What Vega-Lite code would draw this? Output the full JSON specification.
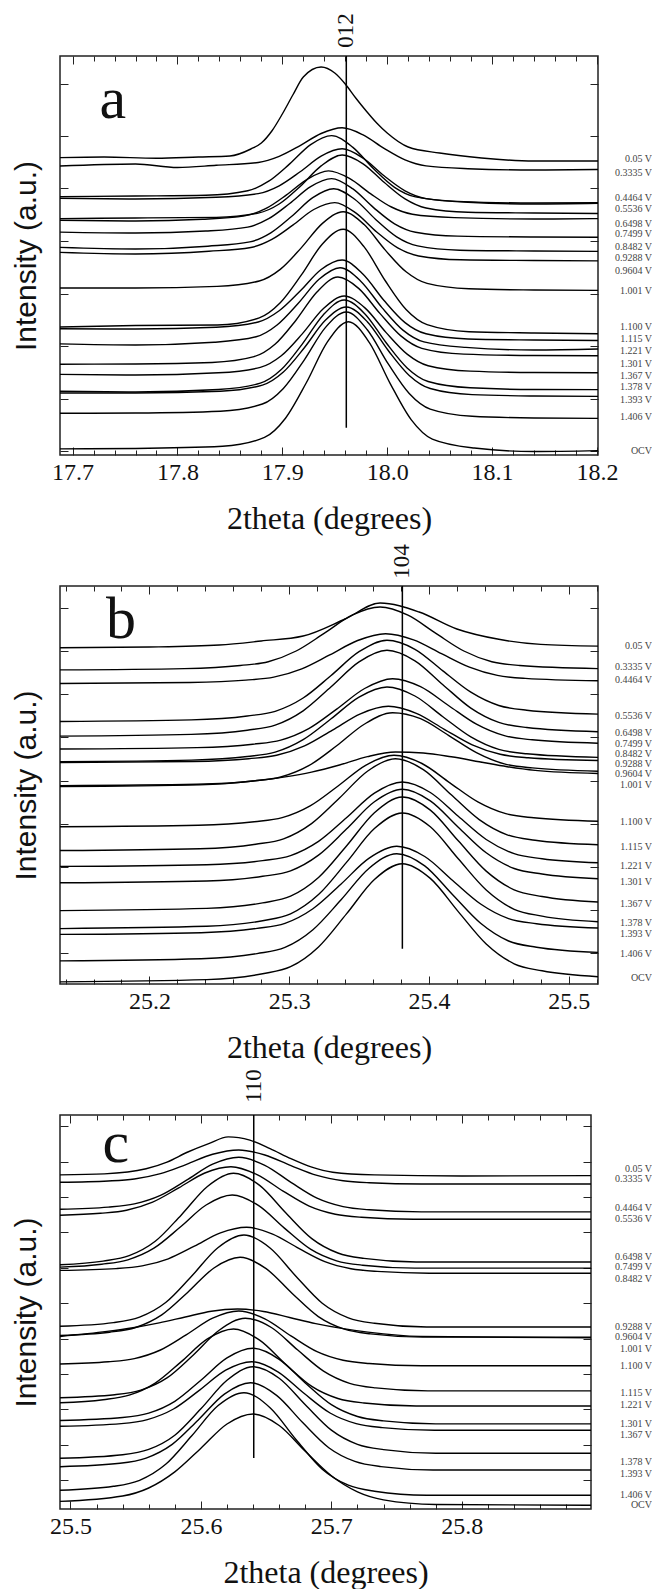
{
"$schema":"https://vega.github.io/schema/vega-lite/v6.json",
"padding":{"left":10,"top":12,"right":0,"bottom":0},
"bounds":"flush",
"spacing":131,
"config":{
"view":{"stroke":"#222","strokeWidth":1.5},
"axis":{"domain":false,"grid":false,"tickColor":"#222","tickWidth":1,"labelFont":"Liberation Serif","labelFontSize":24,"labelColor":"#111","titleFont":"Liberation Serif","titleFontWeight":"normal","titleColor":"#111"},
"text":{"font":"Liberation Serif","color":"#111"}
},
"datasets":{
"a":[
{"k":1,"x":17.688,"y":296.4},{"k":1,"x":17.73,"y":297},{"k":1,"x":17.78,"y":295.7},{"k":1,"x":17.82,"y":297},{"k":1,"x":17.85,"y":298},{"k":1,"x":17.87,"y":305},{"k":1,"x":17.88,"y":311},{"k":1,"x":17.89,"y":323},{"k":1,"x":17.9,"y":340},{"k":1,"x":17.91,"y":359},{"k":1,"x":17.92,"y":377},{"k":1,"x":17.937,"y":387},{"k":1,"x":17.95,"y":381},{"k":1,"x":17.96,"y":370},{"k":1,"x":17.97,"y":356},{"k":1,"x":17.98,"y":343},{"k":1,"x":17.99,"y":331},{"k":1,"x":18.0,"y":321},{"k":1,"x":18.02,"y":307},{"k":1,"x":18.05,"y":301},{"k":1,"x":18.09,"y":296},{"k":1,"x":18.14,"y":293},{"k":1,"x":18.201,"y":293},
{"k":2,"x":17.688,"y":288},{"k":2,"x":17.76,"y":290},{"k":2,"x":17.8,"y":286.5},{"k":2,"x":17.837,"y":288.7},{"k":2,"x":17.877,"y":291.5},{"k":2,"x":17.897,"y":297.6},{"k":2,"x":17.917,"y":308.4},{"k":2,"x":17.937,"y":320.5},{"k":2,"x":17.957,"y":326.2},{"k":2,"x":17.977,"y":319.1},{"k":2,"x":17.997,"y":305.6},{"k":2,"x":18.017,"y":294.1},{"k":2,"x":18.037,"y":288.1},{"k":2,"x":18.077,"y":285.3},{"k":2,"x":18.14,"y":284},{"k":2,"x":18.201,"y":284.5},
{"k":3,"x":17.688,"y":257.4},{"k":3,"x":17.76,"y":258},{"k":3,"x":17.827,"y":258.7},{"k":3,"x":17.867,"y":263.2},{"k":3,"x":17.887,"y":272.8},{"k":3,"x":17.907,"y":290.1},{"k":3,"x":17.927,"y":309.4},{"k":3,"x":17.947,"y":318.4},{"k":3,"x":17.967,"y":306.9},{"k":3,"x":17.987,"y":285.2},{"k":3,"x":18.007,"y":266.7},{"k":3,"x":18.027,"y":257.1},{"k":3,"x":18.067,"y":252.6},{"k":3,"x":18.14,"y":251},{"k":3,"x":18.201,"y":251.3},
{"k":4,"x":17.688,"y":255.7},{"k":4,"x":17.76,"y":255},{"k":4,"x":17.837,"y":256.7},{"k":4,"x":17.877,"y":260.4},{"k":4,"x":17.897,"y":268.2},{"k":4,"x":17.917,"y":282.2},{"k":4,"x":17.937,"y":297.9},{"k":4,"x":17.957,"y":305.2},{"k":4,"x":17.977,"y":295.9},{"k":4,"x":17.997,"y":278.2},{"k":4,"x":18.017,"y":263.2},{"k":4,"x":18.037,"y":255.4},{"k":4,"x":18.077,"y":251.7},{"k":4,"x":18.14,"y":250},{"k":4,"x":18.201,"y":250.7},
{"k":5,"x":17.688,"y":235.4},{"k":5,"x":17.76,"y":236},{"k":5,"x":17.837,"y":236.6},{"k":5,"x":17.877,"y":240.9},{"k":5,"x":17.897,"y":250},{"k":5,"x":17.917,"y":267.6},{"k":5,"x":17.937,"y":288.1},{"k":5,"x":17.957,"y":299},{"k":5,"x":17.977,"y":290.2},{"k":5,"x":17.997,"y":271.7},{"k":5,"x":18.017,"y":255.1},{"k":5,"x":18.037,"y":246},{"k":5,"x":18.077,"y":241.7},{"k":5,"x":18.14,"y":241},{"k":5,"x":18.201,"y":240.5},
{"k":6,"x":17.688,"y":233.7},{"k":6,"x":17.76,"y":233},{"k":6,"x":17.824,"y":234.7},{"k":6,"x":17.864,"y":238.1},{"k":6,"x":17.884,"y":245.3},{"k":6,"x":17.904,"y":259.1},{"k":6,"x":17.924,"y":274.9},{"k":6,"x":17.944,"y":283.1},{"k":6,"x":17.964,"y":275.6},{"k":6,"x":17.984,"y":260.4},{"k":6,"x":18.004,"y":247},{"k":6,"x":18.024,"y":239.8},{"k":6,"x":18.064,"y":236.4},{"k":6,"x":18.14,"y":235},{"k":6,"x":18.201,"y":235.4},
{"k":7,"x":17.688,"y":221.9},{"k":7,"x":17.76,"y":221},{"k":7,"x":17.827,"y":223},{"k":7,"x":17.867,"y":226.9},{"k":7,"x":17.887,"y":235.3},{"k":7,"x":17.907,"y":250.5},{"k":7,"x":17.927,"y":267.4},{"k":7,"x":17.947,"y":275.4},{"k":7,"x":17.967,"y":265.3},{"k":7,"x":17.987,"y":246.4},{"k":7,"x":18.007,"y":230.2},{"k":7,"x":18.027,"y":221.8},{"k":7,"x":18.067,"y":217.9},{"k":7,"x":18.14,"y":217},{"k":7,"x":18.201,"y":216.8},
{"k":8,"x":17.688,"y":206.6},{"k":8,"x":17.76,"y":205},{"k":8,"x":17.829,"y":207.8},{"k":8,"x":17.869,"y":212.1},{"k":8,"x":17.889,"y":221.2},{"k":8,"x":17.909,"y":237.8},{"k":8,"x":17.929,"y":256.4},{"k":8,"x":17.949,"y":265.3},{"k":8,"x":17.969,"y":254.8},{"k":8,"x":17.989,"y":234.6},{"k":8,"x":18.009,"y":217.2},{"k":8,"x":18.029,"y":208.1},{"k":8,"x":18.069,"y":203.8},{"k":8,"x":18.14,"y":203},{"k":8,"x":18.201,"y":202.6},
{"k":9,"x":17.688,"y":201.6},{"k":9,"x":17.76,"y":200},{"k":9,"x":17.83,"y":202.7},{"k":9,"x":17.87,"y":206.5},{"k":9,"x":17.89,"y":214.6},{"k":9,"x":17.91,"y":228.9},{"k":9,"x":17.93,"y":244.5},{"k":9,"x":17.95,"y":251.4},{"k":9,"x":17.97,"y":241.1},{"k":9,"x":17.99,"y":222},{"k":9,"x":18.01,"y":206.1},{"k":9,"x":18.03,"y":198},{"k":9,"x":18.07,"y":194.2},{"k":9,"x":18.14,"y":193.5},{"k":9,"x":18.201,"y":193.1},
{"k":10,"x":17.688,"y":166},{"k":10,"x":17.76,"y":166},{"k":10,"x":17.838,"y":167.6},{"k":10,"x":17.878,"y":173},{"k":10,"x":17.898,"y":184.6},{"k":10,"x":17.918,"y":206.1},{"k":10,"x":17.938,"y":230.4},{"k":10,"x":17.958,"y":242.3},{"k":10,"x":17.978,"y":229.4},{"k":10,"x":17.998,"y":204.1},{"k":10,"x":18.018,"y":182.2},{"k":10,"x":18.038,"y":170.6},{"k":10,"x":18.078,"y":165.2},{"k":10,"x":18.14,"y":164},{"k":10,"x":18.201,"y":163.6},
{"k":11,"x":17.688,"y":127},{"k":11,"x":17.76,"y":128.5},{"k":11,"x":17.838,"y":129},{"k":11,"x":17.878,"y":136.1},{"k":11,"x":17.898,"y":151.2},{"k":11,"x":17.918,"y":178.8},{"k":11,"x":17.938,"y":209.8},{"k":11,"x":17.958,"y":224.7},{"k":11,"x":17.978,"y":207.1},{"k":11,"x":17.998,"y":173.5},{"k":11,"x":18.018,"y":144.5},{"k":11,"x":18.038,"y":129.4},{"k":11,"x":18.078,"y":122.3},{"k":11,"x":18.14,"y":121},{"k":11,"x":18.201,"y":120.3},
{"k":12,"x":17.688,"y":125.3},{"k":12,"x":17.76,"y":125},{"k":12,"x":17.837,"y":126.8},{"k":12,"x":17.877,"y":132},{"k":12,"x":17.897,"y":143.2},{"k":12,"x":17.917,"y":162.9},{"k":12,"x":17.937,"y":184.5},{"k":12,"x":17.957,"y":194},{"k":12,"x":17.977,"y":179.7},{"k":12,"x":17.997,"y":153.5},{"k":12,"x":18.017,"y":131.4},{"k":12,"x":18.037,"y":120.2},{"k":12,"x":18.077,"y":115},{"k":12,"x":18.14,"y":114},{"k":12,"x":18.201,"y":113.5},
{"k":13,"x":17.688,"y":110.1},{"k":13,"x":17.76,"y":109},{"k":13,"x":17.835,"y":111.7},{"k":13,"x":17.875,"y":117.2},{"k":13,"x":17.895,"y":129},{"k":13,"x":17.915,"y":150.5},{"k":13,"x":17.935,"y":174.7},{"k":13,"x":17.955,"y":186.3},{"k":13,"x":17.975,"y":172.6},{"k":13,"x":17.995,"y":146.4},{"k":13,"x":18.015,"y":123.9},{"k":13,"x":18.035,"y":112.1},{"k":13,"x":18.075,"y":106.6},{"k":13,"x":18.14,"y":104},{"k":13,"x":18.201,"y":105},
{"k":14,"x":17.688,"y":89.8},{"k":14,"x":17.76,"y":90},{"k":14,"x":17.833,"y":91.5},{"k":14,"x":17.873,"y":97.3},{"k":14,"x":17.893,"y":109.7},{"k":14,"x":17.913,"y":133.8},{"k":14,"x":17.933,"y":162},{"k":14,"x":17.953,"y":177},{"k":14,"x":17.973,"y":165.4},{"k":14,"x":17.993,"y":140.6},{"k":14,"x":18.013,"y":118.1},{"k":14,"x":18.033,"y":105.7},{"k":14,"x":18.073,"y":99.9},{"k":14,"x":18.14,"y":98.5},{"k":14,"x":18.201,"y":98.2},
{"k":15,"x":17.688,"y":79.6},{"k":15,"x":17.76,"y":79},{"k":15,"x":17.839,"y":81.2},{"k":15,"x":17.879,"y":86.6},{"k":15,"x":17.899,"y":98.2},{"k":15,"x":17.919,"y":120.1},{"k":15,"x":17.939,"y":145.2},{"k":15,"x":17.959,"y":158},{"k":15,"x":17.979,"y":145.9},{"k":15,"x":17.999,"y":121.4},{"k":15,"x":18.019,"y":99.9},{"k":15,"x":18.039,"y":88.3},{"k":15,"x":18.079,"y":82.9},{"k":15,"x":18.14,"y":81.5},{"k":15,"x":18.201,"y":81.3},
{"k":16,"x":17.688,"y":62.7},{"k":16,"x":17.76,"y":62},{"k":16,"x":17.839,"y":64.5},{"k":16,"x":17.879,"y":70.8},{"k":16,"x":17.899,"y":84.4},{"k":16,"x":17.919,"y":109.9},{"k":16,"x":17.939,"y":139.1},{"k":16,"x":17.959,"y":154},{"k":16,"x":17.979,"y":139.8},{"k":16,"x":17.999,"y":111.2},{"k":16,"x":18.019,"y":86.1},{"k":16,"x":18.039,"y":72.5},{"k":16,"x":18.079,"y":66.2},{"k":16,"x":18.14,"y":64.5},{"k":16,"x":18.201,"y":64.4},
{"k":17,"x":17.688,"y":61},{"k":17,"x":17.76,"y":61},{"k":17,"x":17.841,"y":62.8},{"k":17,"x":17.881,"y":68.9},{"k":17,"x":17.901,"y":82},{"k":17,"x":17.921,"y":106.3},{"k":17,"x":17.941,"y":133.7},{"k":17,"x":17.961,"y":147},{"k":17,"x":17.981,"y":132.3},{"k":17,"x":18.001,"y":103.5},{"k":17,"x":18.021,"y":78.6},{"k":17,"x":18.041,"y":65.5},{"k":17,"x":18.081,"y":59.4},{"k":17,"x":18.14,"y":58},{"k":17,"x":18.201,"y":57.6},
{"k":18,"x":17.688,"y":40.7},{"k":18,"x":17.76,"y":41},{"k":18,"x":17.841,"y":42.8},{"k":18,"x":17.881,"y":50},{"k":18,"x":17.901,"y":65.6},{"k":18,"x":17.921,"y":94.2},{"k":18,"x":17.941,"y":126.4},{"k":18,"x":17.961,"y":142},{"k":18,"x":17.981,"y":124.3},{"k":18,"x":18.001,"y":90.1},{"k":18,"x":18.021,"y":60.5},{"k":18,"x":18.041,"y":44.9},{"k":18,"x":18.081,"y":37.7},{"k":18,"x":18.14,"y":36},{"k":18,"x":18.201,"y":35.6},
{"k":19,"x":17.688,"y":5.1},{"k":19,"x":17.76,"y":5.5},{"k":19,"x":17.843,"y":7.7},{"k":19,"x":17.883,"y":16.6},{"k":19,"x":17.903,"y":35.8},{"k":19,"x":17.923,"y":71.5},{"k":19,"x":17.943,"y":112.1},{"k":19,"x":17.963,"y":132.3},{"k":19,"x":17.983,"y":111.4},{"k":19,"x":18.003,"y":70.2},{"k":19,"x":18.023,"y":34.1},{"k":19,"x":18.043,"y":14.9},{"k":19,"x":18.083,"y":6},{"k":19,"x":18.14,"y":2.5},{"k":19,"x":18.201,"y":3.4}
],
"b":[
{"k":1,"x":25.136,"y":336.2},{"k":1,"x":25.2,"y":337},{"k":1,"x":25.25,"y":339},{"k":1,"x":25.28,"y":343},{"k":1,"x":25.31,"y":348},{"k":1,"x":25.34,"y":365},{"k":1,"x":25.365,"y":381},{"k":1,"x":25.393,"y":372},{"k":1,"x":25.42,"y":355},{"k":1,"x":25.45,"y":344.7},{"k":1,"x":25.48,"y":339.6},{"k":1,"x":25.521,"y":337.9},
{"k":2,"x":25.136,"y":314.1},{"k":2,"x":25.225,"y":315.4},{"k":2,"x":25.265,"y":318.5},{"k":2,"x":25.285,"y":322.3},{"k":2,"x":25.305,"y":333},{"k":2,"x":25.325,"y":350.6},{"k":2,"x":25.345,"y":368.8},{"k":2,"x":25.365,"y":377},{"k":2,"x":25.385,"y":368.8},{"k":2,"x":25.405,"y":350.6},{"k":2,"x":25.425,"y":333},{"k":2,"x":25.445,"y":322.3},{"k":2,"x":25.465,"y":318.5},{"k":2,"x":25.521,"y":315.4},
{"k":3,"x":25.136,"y":300.5},{"k":3,"x":25.229,"y":301.5},{"k":3,"x":25.269,"y":303.9},{"k":3,"x":25.289,"y":306.9},{"k":3,"x":25.309,"y":315.2},{"k":3,"x":25.329,"y":329.1},{"k":3,"x":25.349,"y":343.5},{"k":3,"x":25.369,"y":350.3},{"k":3,"x":25.389,"y":344.2},{"k":3,"x":25.409,"y":330.4},{"k":3,"x":25.429,"y":316.9},{"k":3,"x":25.449,"y":308.6},{"k":3,"x":25.469,"y":305.6},{"k":3,"x":25.521,"y":303.2},
{"k":4,"x":25.136,"y":262.5},{"k":4,"x":25.23,"y":264.1},{"k":4,"x":25.27,"y":268},{"k":4,"x":25.29,"y":272.7},{"k":4,"x":25.31,"y":286},{"k":4,"x":25.33,"y":308.5},{"k":4,"x":25.35,"y":332.3},{"k":4,"x":25.37,"y":343.7},{"k":4,"x":25.39,"y":334.7},{"k":4,"x":25.41,"y":313.1},{"k":4,"x":25.43,"y":291.8},{"k":4,"x":25.45,"y":278.5},{"k":4,"x":25.47,"y":273.8},{"k":4,"x":25.521,"y":269.9},
{"k":5,"x":25.136,"y":247.9},{"k":5,"x":25.23,"y":249.6},{"k":5,"x":25.27,"y":253.8},{"k":5,"x":25.29,"y":258.9},{"k":5,"x":25.31,"y":273.2},{"k":5,"x":25.33,"y":297.2},{"k":5,"x":25.35,"y":322.1},{"k":5,"x":25.37,"y":333.7},{"k":5,"x":25.39,"y":323.2},{"k":5,"x":25.41,"y":299.3},{"k":5,"x":25.43,"y":275.9},{"k":5,"x":25.45,"y":261.6},{"k":5,"x":25.47,"y":256.5},{"k":5,"x":25.521,"y":252.3},
{"k":6,"x":25.136,"y":235},{"k":6,"x":25.234,"y":236.4},{"k":6,"x":25.274,"y":239.8},{"k":6,"x":25.294,"y":243.9},{"k":6,"x":25.314,"y":255.4},{"k":6,"x":25.334,"y":274.9},{"k":6,"x":25.354,"y":295.5},{"k":6,"x":25.374,"y":305.3},{"k":6,"x":25.394,"y":297.3},{"k":6,"x":25.414,"y":278.5},{"k":6,"x":25.434,"y":259.8},{"k":6,"x":25.454,"y":248.3},{"k":6,"x":25.474,"y":244.2},{"k":6,"x":25.521,"y":240.8},
{"k":7,"x":25.136,"y":222.4},{"k":7,"x":25.23,"y":223.9},{"k":7,"x":25.27,"y":227.5},{"k":7,"x":25.29,"y":231.9},{"k":7,"x":25.31,"y":244.4},{"k":7,"x":25.33,"y":265.2},{"k":7,"x":25.35,"y":286.9},{"k":7,"x":25.37,"y":297},{"k":7,"x":25.39,"y":288},{"k":7,"x":25.41,"y":267.3},{"k":7,"x":25.43,"y":247.1},{"k":7,"x":25.45,"y":234.6},{"k":7,"x":25.47,"y":230.2},{"k":7,"x":25.521,"y":226.6},
{"k":8,"x":25.136,"y":221.4},{"k":8,"x":25.231,"y":222.5},{"k":8,"x":25.271,"y":225.3},{"k":8,"x":25.291,"y":228.7},{"k":8,"x":25.311,"y":238.1},{"k":8,"x":25.331,"y":253.9},{"k":8,"x":25.351,"y":270.2},{"k":8,"x":25.371,"y":277.7},{"k":8,"x":25.391,"y":270.6},{"k":8,"x":25.411,"y":254.7},{"k":8,"x":25.431,"y":239.1},{"k":8,"x":25.451,"y":229.7},{"k":8,"x":25.471,"y":226.3},{"k":8,"x":25.521,"y":223.5},
{"k":9,"x":25.136,"y":198.4},{"k":9,"x":25.234,"y":199.7},{"k":9,"x":25.274,"y":203},{"k":9,"x":25.294,"y":207},{"k":9,"x":25.314,"y":218.3},{"k":9,"x":25.334,"y":238.2},{"k":9,"x":25.354,"y":260},{"k":9,"x":25.374,"y":271.3},{"k":9,"x":25.394,"y":265.3},{"k":9,"x":25.414,"y":248.7},{"k":9,"x":25.434,"y":231.4},{"k":9,"x":25.454,"y":220.1},{"k":9,"x":25.474,"y":216.1},{"k":9,"x":25.521,"y":212.8},
{"k":10,"x":25.136,"y":197.4},{"k":10,"x":25.236,"y":199.1},{"k":10,"x":25.276,"y":203.2},{"k":10,"x":25.296,"y":206.9},{"k":10,"x":25.316,"y":211.9},{"k":10,"x":25.336,"y":219},{"k":10,"x":25.356,"y":227.4},{"k":10,"x":25.376,"y":232},{"k":10,"x":25.396,"y":231},{"k":10,"x":25.416,"y":227.2},{"k":10,"x":25.436,"y":222.3},{"k":10,"x":25.456,"y":217.3},{"k":10,"x":25.476,"y":213.6},{"k":10,"x":25.521,"y":210.5},
{"k":11,"x":25.136,"y":157.3},{"k":11,"x":25.235,"y":158.7},{"k":11,"x":25.275,"y":162.2},{"k":11,"x":25.295,"y":166.3},{"k":11,"x":25.315,"y":178.1},{"k":11,"x":25.335,"y":198},{"k":11,"x":25.355,"y":218.9},{"k":11,"x":25.375,"y":228.7},{"k":11,"x":25.395,"y":220.5},{"k":11,"x":25.415,"y":201.2},{"k":11,"x":25.435,"y":182.1},{"k":11,"x":25.455,"y":170.3},{"k":11,"x":25.475,"y":166.2},{"k":11,"x":25.521,"y":162.7},
{"k":12,"x":25.136,"y":133.5},{"k":12,"x":25.236,"y":135.3},{"k":12,"x":25.276,"y":139.8},{"k":12,"x":25.296,"y":145.2},{"k":12,"x":25.316,"y":160.4},{"k":12,"x":25.336,"y":186},{"k":12,"x":25.356,"y":212.8},{"k":12,"x":25.376,"y":225.3},{"k":12,"x":25.396,"y":214.4},{"k":12,"x":25.416,"y":189.2},{"k":12,"x":25.436,"y":164.4},{"k":12,"x":25.456,"y":149.2},{"k":12,"x":25.476,"y":143.8},{"k":12,"x":25.521,"y":139.3},
{"k":13,"x":25.136,"y":117.6},{"k":13,"x":25.241,"y":119.3},{"k":13,"x":25.281,"y":123.4},{"k":13,"x":25.301,"y":128.4},{"k":13,"x":25.321,"y":142.6},{"k":13,"x":25.341,"y":166.2},{"k":13,"x":25.361,"y":190.8},{"k":13,"x":25.381,"y":202},{"k":13,"x":25.401,"y":191.5},{"k":13,"x":25.421,"y":167.7},{"k":13,"x":25.441,"y":144.5},{"k":13,"x":25.461,"y":130.3},{"k":13,"x":25.481,"y":125.3},{"k":13,"x":25.521,"y":121.2},
{"k":14,"x":25.136,"y":101.2},{"k":14,"x":25.241,"y":103},{"k":14,"x":25.281,"y":107.7},{"k":14,"x":25.301,"y":113.2},{"k":14,"x":25.321,"y":128.9},{"k":14,"x":25.341,"y":154.9},{"k":14,"x":25.361,"y":182.2},{"k":14,"x":25.381,"y":194.7},{"k":14,"x":25.401,"y":183.1},{"k":14,"x":25.421,"y":156.8},{"k":14,"x":25.441,"y":131.2},{"k":14,"x":25.461,"y":115.5},{"k":14,"x":25.481,"y":110},{"k":14,"x":25.521,"y":105.3},
{"k":15,"x":25.136,"y":73.4},{"k":15,"x":25.241,"y":75.6},{"k":15,"x":25.281,"y":81.1},{"k":15,"x":25.301,"y":87.8},{"k":15,"x":25.321,"y":106.5},{"k":15,"x":25.341,"y":138},{"k":15,"x":25.361,"y":171.3},{"k":15,"x":25.381,"y":187},{"k":15,"x":25.401,"y":173.9},{"k":15,"x":25.421,"y":143.2},{"k":15,"x":25.441,"y":112.9},{"k":15,"x":25.461,"y":94.2},{"k":15,"x":25.481,"y":87.5},{"k":15,"x":25.521,"y":82},
{"k":16,"x":25.136,"y":55.4},{"k":16,"x":25.241,"y":57.7},{"k":16,"x":25.281,"y":63.3},{"k":16,"x":25.301,"y":70.1},{"k":16,"x":25.321,"y":89.4},{"k":16,"x":25.341,"y":121.6},{"k":16,"x":25.361,"y":155.4},{"k":16,"x":25.381,"y":171},{"k":16,"x":25.401,"y":157.2},{"k":16,"x":25.421,"y":125.2},{"k":16,"x":25.441,"y":94},{"k":16,"x":25.461,"y":74.7},{"k":16,"x":25.481,"y":67.9},{"k":16,"x":25.521,"y":62.3},
{"k":17,"x":25.136,"y":49.6},{"k":17,"x":25.237,"y":51.3},{"k":17,"x":25.277,"y":55.6},{"k":17,"x":25.297,"y":60.7},{"k":17,"x":25.317,"y":75.3},{"k":17,"x":25.337,"y":99.8},{"k":17,"x":25.357,"y":125.6},{"k":17,"x":25.377,"y":137.7},{"k":17,"x":25.397,"y":127.5},{"k":17,"x":25.417,"y":103.5},{"k":17,"x":25.437,"y":80},{"k":17,"x":25.457,"y":65.4},{"k":17,"x":25.477,"y":60.3},{"k":17,"x":25.521,"y":56},
{"k":18,"x":25.136,"y":23.1},{"k":18,"x":25.237,"y":25.2},{"k":18,"x":25.277,"y":30.4},{"k":18,"x":25.297,"y":36.6},{"k":18,"x":25.317,"y":54.3},{"k":18,"x":25.337,"y":84},{"k":18,"x":25.357,"y":115.5},{"k":18,"x":25.377,"y":130.3},{"k":18,"x":25.397,"y":118.1},{"k":18,"x":25.417,"y":89.2},{"k":18,"x":25.437,"y":60.7},{"k":18,"x":25.457,"y":43},{"k":18,"x":25.477,"y":36.8},{"k":18,"x":25.521,"y":31.6},
{"k":19,"x":25.136,"y":2.1},{"k":19,"x":25.241,"y":4.4},{"k":19,"x":25.281,"y":10.3},{"k":19,"x":25.301,"y":17.3},{"k":19,"x":25.321,"y":37.1},{"k":19,"x":25.341,"y":70.1},{"k":19,"x":25.361,"y":104.5},{"k":19,"x":25.381,"y":120.3},{"k":19,"x":25.401,"y":105.6},{"k":19,"x":25.421,"y":72.4},{"k":19,"x":25.441,"y":40},{"k":19,"x":25.461,"y":20.2},{"k":19,"x":25.481,"y":13.2},{"k":19,"x":25.521,"y":7.3}
],
"c":[
{"k":1,"x":25.492,"y":332.1},{"k":1,"x":25.526,"y":333.1},{"k":1,"x":25.558,"y":338.2},{"k":1,"x":25.574,"y":344.9},{"k":1,"x":25.59,"y":355},{"k":1,"x":25.606,"y":363.4},{"k":1,"x":25.621,"y":370.1},{"k":1,"x":25.6375,"y":366.8},{"k":1,"x":25.653,"y":358.4},{"k":1,"x":25.669,"y":348.3},{"k":1,"x":25.685,"y":339.8},{"k":1,"x":25.701,"y":334.8},{"k":1,"x":25.733,"y":332.1},{"k":1,"x":25.8,"y":331},{"k":1,"x":25.899,"y":331.4},
{"k":2,"x":25.492,"y":324.7},{"k":2,"x":25.529,"y":326},{"k":2,"x":25.549,"y":328},{"k":2,"x":25.569,"y":333.3},{"k":2,"x":25.589,"y":342.7},{"k":2,"x":25.609,"y":352.7},{"k":2,"x":25.629,"y":357},{"k":2,"x":25.649,"y":352},{"k":2,"x":25.669,"y":341.4},{"k":2,"x":25.689,"y":331.6},{"k":2,"x":25.709,"y":326.3},{"k":2,"x":25.729,"y":324.3},{"k":2,"x":25.769,"y":323},{"k":2,"x":25.899,"y":323},
{"k":3,"x":25.492,"y":297.8},{"k":3,"x":25.529,"y":299.9},{"k":3,"x":25.549,"y":303.1},{"k":3,"x":25.569,"y":311.6},{"k":3,"x":25.589,"y":326.8},{"k":3,"x":25.609,"y":342.8},{"k":3,"x":25.629,"y":349.7},{"k":3,"x":25.649,"y":341.7},{"k":3,"x":25.669,"y":324.7},{"k":3,"x":25.689,"y":308.9},{"k":3,"x":25.709,"y":300.4},{"k":3,"x":25.729,"y":297.2},{"k":3,"x":25.769,"y":295.1},{"k":3,"x":25.899,"y":295.1},
{"k":4,"x":25.492,"y":291.7},{"k":4,"x":25.523,"y":293.7},{"k":4,"x":25.543,"y":296.8},{"k":4,"x":25.563,"y":304.9},{"k":4,"x":25.583,"y":319.1},{"k":4,"x":25.603,"y":334},{"k":4,"x":25.623,"y":340.3},{"k":4,"x":25.643,"y":332.4},{"k":4,"x":25.663,"y":315.9},{"k":4,"x":25.683,"y":300.9},{"k":4,"x":25.703,"y":292.8},{"k":4,"x":25.723,"y":289.7},{"k":4,"x":25.763,"y":287.7},{"k":4,"x":25.899,"y":287.7},
{"k":5,"x":25.492,"y":242.3},{"k":5,"x":25.525,"y":245.9},{"k":5,"x":25.545,"y":251.3},{"k":5,"x":25.565,"y":265.7},{"k":5,"x":25.585,"y":292.1},{"k":5,"x":25.605,"y":320.5},{"k":5,"x":25.625,"y":333.7},{"k":5,"x":25.645,"y":321.6},{"k":5,"x":25.665,"y":294.2},{"k":5,"x":25.685,"y":268.4},{"k":5,"x":25.705,"y":254},{"k":5,"x":25.725,"y":248.6},{"k":5,"x":25.765,"y":245},{"k":5,"x":25.899,"y":245},
{"k":6,"x":25.492,"y":239.9},{"k":6,"x":25.524,"y":242.8},{"k":6,"x":25.544,"y":247.2},{"k":6,"x":25.564,"y":258.8},{"k":6,"x":25.584,"y":279.7},{"k":6,"x":25.604,"y":302},{"k":6,"x":25.624,"y":312},{"k":6,"x":25.644,"y":301.6},{"k":6,"x":25.664,"y":278.9},{"k":6,"x":25.684,"y":257.8},{"k":6,"x":25.704,"y":246.2},{"k":6,"x":25.724,"y":241.8},{"k":6,"x":25.764,"y":238.9},{"k":6,"x":25.899,"y":238.9},
{"k":7,"x":25.492,"y":236.6},{"k":7,"x":25.535,"y":238.4},{"k":7,"x":25.555,"y":241.1},{"k":7,"x":25.575,"y":248.2},{"k":7,"x":25.595,"y":260.8},{"k":7,"x":25.615,"y":274.1},{"k":7,"x":25.635,"y":279.7},{"k":7,"x":25.655,"y":272.9},{"k":7,"x":25.675,"y":258.6},{"k":7,"x":25.695,"y":245.4},{"k":7,"x":25.715,"y":238.3},{"k":7,"x":25.735,"y":235.6},{"k":7,"x":25.775,"y":233.8},{"k":7,"x":25.899,"y":233.8},
{"k":8,"x":25.492,"y":180.7},{"k":8,"x":25.533,"y":184.4},{"k":8,"x":25.553,"y":189.9},{"k":8,"x":25.573,"y":204.5},{"k":8,"x":25.593,"y":231},{"k":8,"x":25.613,"y":259.3},{"k":8,"x":25.633,"y":272},{"k":8,"x":25.653,"y":259},{"k":8,"x":25.673,"y":230.5},{"k":8,"x":25.693,"y":203.8},{"k":8,"x":25.713,"y":189.2},{"k":8,"x":25.733,"y":183.7},{"k":8,"x":25.773,"y":180},{"k":8,"x":25.899,"y":180},
{"k":9,"x":25.492,"y":171.6},{"k":9,"x":25.53,"y":174.8},{"k":9,"x":25.55,"y":179.5},{"k":9,"x":25.57,"y":192.1},{"k":9,"x":25.59,"y":214.8},{"k":9,"x":25.61,"y":239},{"k":9,"x":25.63,"y":249.7},{"k":9,"x":25.65,"y":238.3},{"k":9,"x":25.67,"y":213.5},{"k":9,"x":25.69,"y":190.4},{"k":9,"x":25.71,"y":177.8},{"k":9,"x":25.73,"y":173.1},{"k":9,"x":25.77,"y":169.9},{"k":9,"x":25.899,"y":169.9},
{"k":10,"x":25.492,"y":170.5},{"k":10,"x":25.528,"y":175.6},{"k":10,"x":25.548,"y":179.3},{"k":10,"x":25.568,"y":184.1},{"k":10,"x":25.588,"y":190},{"k":10,"x":25.608,"y":195.8},{"k":10,"x":25.628,"y":198},{"k":10,"x":25.648,"y":195.5},{"k":10,"x":25.668,"y":189.5},{"k":10,"x":25.688,"y":183.4},{"k":10,"x":25.708,"y":178.6},{"k":10,"x":25.728,"y":174.9},{"k":10,"x":25.768,"y":170.6},{"k":10,"x":25.899,"y":169.2},
{"k":11,"x":25.492,"y":143},{"k":11,"x":25.529,"y":145.2},{"k":11,"x":25.549,"y":148.4},{"k":11,"x":25.569,"y":157},{"k":11,"x":25.589,"y":172.4},{"k":11,"x":25.609,"y":188.8},{"k":11,"x":25.629,"y":196},{"k":11,"x":25.649,"y":188.1},{"k":11,"x":25.669,"y":171.1},{"k":11,"x":25.689,"y":155.3},{"k":11,"x":25.709,"y":146.7},{"k":11,"x":25.729,"y":143.5},{"k":11,"x":25.769,"y":141.3},{"k":11,"x":25.899,"y":141.3},
{"k":12,"x":25.492,"y":109.3},{"k":12,"x":25.534,"y":112.3},{"k":12,"x":25.554,"y":116.9},{"k":12,"x":25.574,"y":129.1},{"k":12,"x":25.594,"y":151.8},{"k":12,"x":25.614,"y":176.7},{"k":12,"x":25.634,"y":188.7},{"k":12,"x":25.654,"y":179.5},{"k":12,"x":25.674,"y":157.2},{"k":12,"x":25.694,"y":135.9},{"k":12,"x":25.714,"y":123.7},{"k":12,"x":25.734,"y":119.1},{"k":12,"x":25.774,"y":116.1},{"k":12,"x":25.899,"y":116.1},
{"k":13,"x":25.492,"y":104.3},{"k":13,"x":25.525,"y":107.3},{"k":13,"x":25.545,"y":111.8},{"k":13,"x":25.565,"y":123.9},{"k":13,"x":25.585,"y":145.4},{"k":13,"x":25.605,"y":168.1},{"k":13,"x":25.625,"y":178},{"k":13,"x":25.645,"y":166.8},{"k":13,"x":25.665,"y":142.7},{"k":13,"x":25.685,"y":120.6},{"k":13,"x":25.705,"y":108.5},{"k":13,"x":25.725,"y":104},{"k":13,"x":25.765,"y":101},{"k":13,"x":25.899,"y":101},
{"k":14,"x":25.492,"y":86.5},{"k":14,"x":25.54,"y":89.5},{"k":14,"x":25.56,"y":93.9},{"k":14,"x":25.58,"y":105.7},{"k":14,"x":25.6,"y":126.8},{"k":14,"x":25.62,"y":149.1},{"k":14,"x":25.64,"y":158.7},{"k":14,"x":25.66,"y":147.7},{"k":14,"x":25.68,"y":124},{"k":14,"x":25.7,"y":102.3},{"k":14,"x":25.72,"y":90.5},{"k":14,"x":25.74,"y":86.1},{"k":14,"x":25.78,"y":83.1},{"k":14,"x":25.899,"y":83.1},
{"k":15,"x":25.492,"y":80.7},{"k":15,"x":25.539,"y":83.4},{"k":15,"x":25.559,"y":87.4},{"k":15,"x":25.579,"y":98},{"k":15,"x":25.599,"y":116.9},{"k":15,"x":25.619,"y":136.8},{"k":15,"x":25.639,"y":145.3},{"k":15,"x":25.659,"y":135.2},{"k":15,"x":25.679,"y":113.7},{"k":15,"x":25.699,"y":94},{"k":15,"x":25.719,"y":83.4},{"k":15,"x":25.739,"y":79.4},{"k":15,"x":25.779,"y":76.7},{"k":15,"x":25.899,"y":76.7},
{"k":16,"x":25.492,"y":48.7},{"k":16,"x":25.54,"y":52.3},{"k":16,"x":25.56,"y":57.6},{"k":16,"x":25.58,"y":71.8},{"k":16,"x":25.6,"y":98.2},{"k":16,"x":25.62,"y":126.7},{"k":16,"x":25.64,"y":140.3},{"k":16,"x":25.66,"y":128.8},{"k":16,"x":25.68,"y":102.3},{"k":16,"x":25.7,"y":76.9},{"k":16,"x":25.72,"y":62.7},{"k":16,"x":25.74,"y":57.4},{"k":16,"x":25.78,"y":53.8},{"k":16,"x":25.899,"y":53.8},
{"k":17,"x":25.492,"y":40.3},{"k":17,"x":25.538,"y":43.7},{"k":17,"x":25.558,"y":48.9},{"k":17,"x":25.578,"y":62.6},{"k":17,"x":25.598,"y":87.1},{"k":17,"x":25.618,"y":112.9},{"k":17,"x":25.638,"y":124.3},{"k":17,"x":25.658,"y":111.6},{"k":17,"x":25.678,"y":84.4},{"k":17,"x":25.698,"y":59.3},{"k":17,"x":25.718,"y":45.6},{"k":17,"x":25.738,"y":40.4},{"k":17,"x":25.778,"y":37},{"k":17,"x":25.899,"y":37},
{"k":18,"x":25.492,"y":16.7},{"k":18,"x":25.533,"y":20.7},{"k":18,"x":25.553,"y":26.7},{"k":18,"x":25.573,"y":42.7},{"k":18,"x":25.593,"y":71.2},{"k":18,"x":25.613,"y":101.2},{"k":18,"x":25.633,"y":114.3},{"k":18,"x":25.653,"y":99.3},{"k":18,"x":25.673,"y":67.3},{"k":18,"x":25.693,"y":37.8},{"k":18,"x":25.713,"y":21.8},{"k":18,"x":25.733,"y":15.8},{"k":18,"x":25.773,"y":11.8},{"k":18,"x":25.899,"y":11.8},
{"k":19,"x":25.492,"y":5.6},{"k":19,"x":25.54,"y":11},{"k":19,"x":25.56,"y":19},{"k":19,"x":25.58,"y":35.1},{"k":19,"x":25.6,"y":58.8},{"k":19,"x":25.62,"y":83},{"k":19,"x":25.64,"y":93},{"k":19,"x":25.66,"y":81.5},{"k":19,"x":25.68,"y":55.7},{"k":19,"x":25.7,"y":31.2},{"k":19,"x":25.72,"y":15.1},{"k":19,"x":25.74,"y":7.1},{"k":19,"x":25.78,"y":2.5},{"k":19,"x":25.899,"y":1.7}
],
"la":[{"t":"0.05 V","y":295.4},{"t":"0.3335 V","y":281.1},{"t":"0.4464 V","y":255.7},{"t":"0.5536 V","y":244.9},{"t":"0.6498 V","y":230.2},{"t":"0.7499 V","y":219.7},{"t":"0.8482 V","y":207.3},{"t":"0.9288 V","y":196.5},{"t":"0.9604 V","y":182.9},{"t":"1.001 V","y":162.6},{"t":"1.100 V","y":127},{"t":"1.115 V","y":115.2},{"t":"1.221 V","y":103.3},{"t":"1.301 V","y":89.8},{"t":"1.367 V","y":77.9},{"t":"1.378 V","y":66.8},{"t":"1.393 V","y":54.2},{"t":"1.406 V","y":36.6},{"t":"OCV","y":3.4}],
"lb":[{"t":"0.05 V","y":337.9},{"t":"0.3335 V","y":317.5},{"t":"0.4464 V","y":303.9},{"t":"0.5536 V","y":268.3},{"t":"0.6498 V","y":251.5},{"t":"0.7499 V","y":240.5},{"t":"0.8482 V","y":230},{"t":"0.9288 V","y":220},{"t":"0.9604 V","y":210},{"t":"1.001 V","y":199.3},{"t":"1.100 V","y":162},{"t":"1.115 V","y":137.5},{"t":"1.221 V","y":117.8},{"t":"1.301 V","y":101.9},{"t":"1.367 V","y":79.8},{"t":"1.378 V","y":61.1},{"t":"1.393 V","y":50.4},{"t":"1.406 V","y":30.5},{"t":"OCV","y":6}],
"lc":[{"t":"0.05 V","y":338.5},{"t":"0.3335 V","y":328.5},{"t":"0.4464 V","y":299.3},{"t":"0.5536 V","y":288.4},{"t":"0.6498 V","y":250.3},{"t":"0.7499 V","y":240},{"t":"0.8482 V","y":227.8},{"t":"0.9288 V","y":180.5},{"t":"0.9604 V","y":170},{"t":"1.001 V","y":158.1},{"t":"1.100 V","y":141.3},{"t":"1.115 V","y":114.4},{"t":"1.221 V","y":102},{"t":"1.301 V","y":82.7},{"t":"1.367 V","y":71.7},{"t":"1.378 V","y":45.4},{"t":"1.393 V","y":32.6},{"t":"1.406 V","y":12.3},{"t":"OCV","y":1.7}]
},
"vconcat":[
{"width":538,"height":399,
"layer":[
{"data":{"name":"a"},"mark":{"type":"line","interpolate":"monotone","color":"black","strokeWidth":1.4,"clip":true},
"encoding":{
"x":{"field":"x","type":"quantitative","scale":{"domain":[17.688,18.201],"nice":false,"zero":false},
"axis":{"orient":"bottom","values":[17.7,17.72,17.74,17.76,17.78,17.8,17.82,17.84,17.86,17.88,17.9,17.92,17.94,17.96,17.98,18.0,18.02,18.04,18.06,18.08,18.1,18.12,18.14,18.16,18.18,18.2],
"labelExpr":"abs(datum.value*10-round(datum.value*10))<0.001 ? format(datum.value,'.1f') : ''",
"tickSize":{"condition":{"test":"abs(datum.value*10-round(datum.value*10))<0.001","value":-8},"value":-5},
"labelFont":"Liberation Serif","labelFontSize":24,"labelPadding":13,"labelFlush":false,"labelOverlap":false,"title":"2theta (degrees)","titleFont":"Liberation Serif","titleFontSize":32,"titlePadding":16}},
"y":{"field":"y","type":"quantitative","scale":{"domain":[-1,398],"nice":false,"zero":false},
"axis":{"orient":"left","values":[3,55.5,108,160.5,213,265.5,318,370.5],"labels":false,"tickSize":-8,"title":"Intensity (a.u.)","titleFont":"Liberation Sans","titleFontSize":30,"titlePadding":18}},
"detail":{"field":"k","type":"nominal"}}},
{"data":{"values":[{"x":17.961,"y":398,"y2":26.3}]},"mark":{"type":"rule","color":"black","strokeWidth":1.5},
"encoding":{
"x":{"field":"x","type":"quantitative","scale":{"domain":[17.688,18.201],"nice":false,"zero":false},
"axis":{"orient":"top","values":[17.7,17.72,17.74,17.76,17.78,17.8,17.82,17.84,17.86,17.88,17.9,17.92,17.94,17.96,17.98,18.0,18.02,18.04,18.06,18.08,18.1,18.12,18.14,18.16,18.18,18.2],"labels":false,
"tickSize":{"condition":{"test":"abs(datum.value*10-round(datum.value*10))<0.001","value":-8},"value":-5},"title":null}},
"y":{"field":"y","type":"quantitative","scale":{"domain":[-1,398],"nice":false,"zero":false},
"axis":{"orient":"right","values":[3,55.5,108,160.5,213,265.5,318,370.5],"labels":false,"tickSize":-8,"title":null}},
"y2":{"field":"y2"}}},
{"data":{"values":[{"x":17.961,"y":423.5,"t":"012"}]},"mark":{"type":"text","angle":270,"fontSize":23,"align":"center","baseline":"middle"},
"encoding":{"x":{"field":"x","type":"quantitative","axis":null},"y":{"field":"y","type":"quantitative","axis":null},"text":{"field":"t"}}},
{"data":{"values":[{"x":17.7257,"y":336,"t":"a"}]},"mark":{"type":"text","fontSize":60,"align":"left","baseline":"alphabetic"},
"encoding":{"x":{"field":"x","type":"quantitative","axis":null},"y":{"field":"y","type":"quantitative","axis":null},"text":{"field":"t"}}},
{"data":{"name":"la"},"mark":{"type":"text","fontSize":10,"align":"right","baseline":"middle","dx":54,"color":"#444"},
"encoding":{"x":{"datum":18.201,"type":"quantitative","axis":null},"y":{"field":"y","type":"quantitative","axis":null},"text":{"field":"t"}}}
],
"resolve":{"axis":{"x":"independent","y":"independent"}}},
{"width":538,"height":398,
"layer":[
{"data":{"name":"b"},"mark":{"type":"line","interpolate":"monotone","color":"black","strokeWidth":1.4,"clip":true},
"encoding":{
"x":{"field":"x","type":"quantitative","scale":{"domain":[25.136,25.521],"nice":false,"zero":false},
"axis":{"orient":"bottom","values":[25.14,25.16,25.18,25.2,25.22,25.24,25.26,25.28,25.3,25.32,25.34,25.36,25.38,25.4,25.42,25.44,25.46,25.48,25.5,25.52],
"labelExpr":"abs(datum.value*10-round(datum.value*10))<0.001 ? format(datum.value,'.1f') : ''",
"tickSize":{"condition":{"test":"abs(datum.value*10-round(datum.value*10))<0.001","value":-8},"value":-5},
"labelFont":"Liberation Serif","labelFontSize":24,"labelPadding":13,"labelFlush":false,"labelOverlap":false,"title":"2theta (degrees)","titleFont":"Liberation Serif","titleFontSize":32,"titlePadding":16}},
"y":{"field":"y","type":"quantitative","scale":{"domain":[0,398],"nice":false,"zero":false},
"axis":{"orient":"left","values":[30.6,73.8,117,160.2,203.4,246.6,289.8,333,376.2],"labels":false,"tickSize":-8,"title":"Intensity (a.u.)","titleFont":"Liberation Sans","titleFontSize":30,"titlePadding":18}},
"detail":{"field":"k","type":"nominal"}}},
{"data":{"values":[{"x":25.381,"y":398,"y2":35.3}]},"mark":{"type":"rule","color":"black","strokeWidth":1.5},
"encoding":{
"x":{"field":"x","type":"quantitative","scale":{"domain":[25.136,25.521],"nice":false,"zero":false},
"axis":{"orient":"top","values":[25.14,25.16,25.18,25.2,25.22,25.24,25.26,25.28,25.3,25.32,25.34,25.36,25.38,25.4,25.42,25.44,25.46,25.48,25.5,25.52],"labels":false,
"tickSize":{"condition":{"test":"abs(datum.value*10-round(datum.value*10))<0.001","value":-8},"value":-5},"title":null}},
"y":{"field":"y","type":"quantitative","scale":{"domain":[0,398],"nice":false,"zero":false},
"axis":{"orient":"right","values":[30.6,73.8,117,160.2,203.4,246.6,289.8,333,376.2],"labels":false,"tickSize":-8,"title":null}},
"y2":{"field":"y2"}}},
{"data":{"values":[{"x":25.381,"y":422.4,"t":"104"}]},"mark":{"type":"text","angle":270,"fontSize":23,"align":"center","baseline":"middle"},
"encoding":{"x":{"field":"x","type":"quantitative","axis":null},"y":{"field":"y","type":"quantitative","axis":null},"text":{"field":"t"}}},
{"data":{"values":[{"x":25.1689,"y":346,"t":"b"}]},"mark":{"type":"text","fontSize":60,"align":"left","baseline":"alphabetic"},
"encoding":{"x":{"field":"x","type":"quantitative","axis":null},"y":{"field":"y","type":"quantitative","axis":null},"text":{"field":"t"}}},
{"data":{"name":"lb"},"mark":{"type":"text","fontSize":10,"align":"right","baseline":"middle","dx":54,"color":"#444"},
"encoding":{"x":{"datum":25.521,"type":"quantitative","axis":null},"y":{"field":"y","type":"quantitative","axis":null},"text":{"field":"t"}}}
],
"resolve":{"axis":{"x":"independent","y":"independent"}}},
{"width":531,"height":394,
"layer":[
{"data":{"name":"c"},"mark":{"type":"line","interpolate":"monotone","color":"black","strokeWidth":1.4,"clip":true},
"encoding":{
"x":{"field":"x","type":"quantitative","scale":{"domain":[25.492,25.899],"nice":false,"zero":false},
"axis":{"orient":"bottom","values":[25.5,25.52,25.54,25.56,25.58,25.6,25.62,25.64,25.66,25.68,25.7,25.72,25.74,25.76,25.78,25.8,25.82,25.84,25.86,25.88],
"labelExpr":"abs(datum.value*10-round(datum.value*10))<0.001 ? format(datum.value,'.1f') : ''",
"tickSize":{"condition":{"test":"abs(datum.value*10-round(datum.value*10))<0.001","value":-8},"value":-5},
"labelFont":"Liberation Serif","labelFontSize":24,"labelPadding":13,"labelFlush":false,"labelOverlap":false,"title":"2theta (degrees)","titleFont":"Liberation Serif","titleFontSize":32,"titlePadding":16}},
"y":{"field":"y","type":"quantitative","scale":{"domain":[-2,392],"nice":false,"zero":false},
"axis":{"orient":"left","values":[26.9,62.3,97.7,133.1,168.5,203.9,239.3,274.7,310.1,345.5,380.9],"labels":false,"tickSize":-8,"title":"Intensity (a.u.)","titleFont":"Liberation Sans","titleFontSize":30,"titlePadding":18}},
"detail":{"field":"k","type":"nominal"}}},
{"data":{"values":[{"x":25.6405,"y":392,"y2":49}]},"mark":{"type":"rule","color":"black","strokeWidth":1.5},
"encoding":{
"x":{"field":"x","type":"quantitative","scale":{"domain":[25.492,25.899],"nice":false,"zero":false},
"axis":{"orient":"top","values":[25.5,25.52,25.54,25.56,25.58,25.6,25.62,25.64,25.66,25.68,25.7,25.72,25.74,25.76,25.78,25.8,25.82,25.84,25.86,25.88],"labels":false,
"tickSize":{"condition":{"test":"abs(datum.value*10-round(datum.value*10))<0.001","value":-8},"value":-5},"title":null}},
"y":{"field":"y","type":"quantitative","scale":{"domain":[-2,392],"nice":false,"zero":false},
"axis":{"orient":"right","values":[26.9,62.3,97.7,133.1,168.5,203.9,239.3,274.7,310.1,345.5,380.9],"labels":false,"tickSize":-8,"title":null}},
"y2":{"field":"y2"}}},
{"data":{"values":[{"x":25.6405,"y":421,"t":"110"}]},"mark":{"type":"text","angle":270,"fontSize":23,"align":"center","baseline":"middle"},
"encoding":{"x":{"field":"x","type":"quantitative","axis":null},"y":{"field":"y","type":"quantitative","axis":null},"text":{"field":"t"}}},
{"data":{"values":[{"x":25.5245,"y":345,"t":"c"}]},"mark":{"type":"text","fontSize":60,"align":"left","baseline":"alphabetic"},
"encoding":{"x":{"field":"x","type":"quantitative","axis":null},"y":{"field":"y","type":"quantitative","axis":null},"text":{"field":"t"}}},
{"data":{"name":"lc"},"mark":{"type":"text","fontSize":10,"align":"right","baseline":"middle","dx":61,"color":"#444"},
"encoding":{"x":{"datum":25.899,"type":"quantitative","axis":null},"y":{"field":"y","type":"quantitative","axis":null},"text":{"field":"t"}}}
],
"resolve":{"axis":{"x":"independent","y":"independent"}}}
]
}
